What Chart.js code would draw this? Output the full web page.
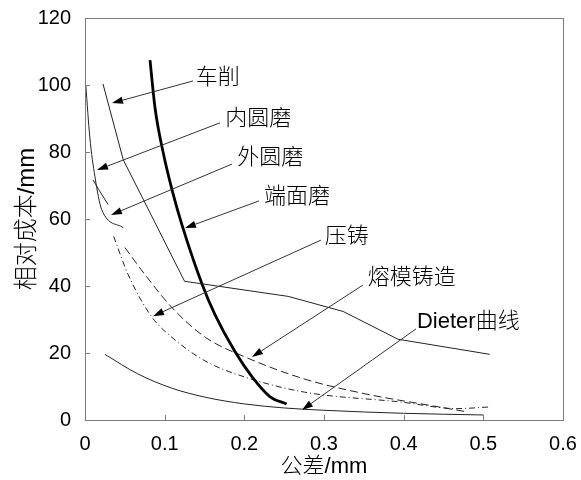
<!DOCTYPE html>
<html>
<head>
<meta charset="utf-8">
<script src="https://cdn.jsdelivr.net/npm/chart.js@4.4.1/dist/chart.umd.min.js"></script>
<style>
  body { margin: 0; background: #fff; }
</style>
</head>
<body>
<canvas id="chart" width="581" height="480"></canvas>
<script>
// tick labels
const xTicks = [0, 0.1, 0.2, 0.3, 0.4, 0.5, 0.6];
const yTicks = [0, 20, 40, 60, 80, 100, 120];

// 车削
const cheXueX = [0.0226, 0.048, 0.125, 0.255, 0.324, 0.393, 0.508];
const cheXueY = [100.3, 77.7, 41.4, 36.9, 32.4, 24.1, 19.6];
// 内圆磨
const neiYuanX = [0.001, 0.006, 0.0125, 0.021, 0.048];
const neiYuanY = [100, 84.5, 72.6, 62.8, 57.4];
// 外圆磨
const waiYuanX = [0.010, 0.018, 0.029];
const waiYuanY = [71.7, 68.5, 64.3];
// 端面磨 (thick)
const duanMianX = [0.0816, 0.088, 0.098, 0.110, 0.122, 0.147, 0.163, 0.188, 0.210, 0.232, 0.253];
const duanMianY = [107.4, 93, 80, 68, 58, 40.5, 31.5, 20.5, 12.8, 7, 4.8];
// 压铸 (dash-dot)
const yaZhuX = [0.036, 0.054, 0.084, 0.109, 0.151, 0.201, 0.276, 0.395, 0.467, 0.508];
const yaZhuY = [54.8, 43.5, 30.7, 24.7, 17.6, 12.8, 8.3, 5.4, 3.4, 3.9];
// 熔模铸造 (dashed)
const rongMoX = [0.050, 0.075, 0.109, 0.151, 0.201, 0.276, 0.354, 0.437, 0.480];
const rongMoY = [51.5, 43.5, 33.6, 24.7, 18.8, 12.2, 7.7, 4.2, 2.4];
// Dieter曲线
const dieterX = [0.025, 0.066, 0.109, 0.151, 0.2, 0.25, 0.3, 0.4, 0.5];
const dieterY = [19.6, 13.8, 9.5, 6.8, 4.8, 3.6, 2.9, 2.0, 1.5];

// annotation labels: text, text anchor, line start, arrow tip (data units)
const notes = [
  { text: '车削',       at: [0.139, 102.1], from: [0.1356, 101.2], tip: [0.0339, 94.6] },
  { text: '内圆磨',     at: [0.176, 89.9],  from: [0.1694, 88.7],  tip: [0.0151, 74.6] },
  { text: '外圆磨',     at: [0.191, 78.2],  from: [0.1845, 76.4],  tip: [0.0326, 61.2] },
  { text: '端面磨',     at: [0.2247, 66.6], from: [0.2184, 65.4],  tip: [0.1255, 57.3] },
  { text: '压铸',       at: [0.301, 54.6],  from: [0.2962, 53.7],  tip: [0.0854, 31.0] },
  { text: '熔模铸造',   at: [0.355, 42.4],  from: [0.349, 40.3],   tip: [0.2096, 18.8] },
  { text: 'Dieter曲线', at: [0.4167, 29.3], from: [0.4155, 27.2],  tip: [0.2724, 3.0] }
];

function pts(xs, ys) {
  return xs.map((x, i) => ({ x: x, y: ys[i] }));
}

const FONT = '"Liberation Sans", Arial, "Noto Sans CJK SC", sans-serif';

const overlay = {
  id: 'overlay',
  afterDraw(chart) {
    const ctx = chart.ctx;
    const a = chart.chartArea;
    const x = chart.scales.x, y = chart.scales.y;
    ctx.save();
    // box + inward ticks
    ctx.strokeStyle = '#7a7a7a';
    ctx.lineWidth = 1;
    ctx.strokeRect(a.left + 0.5, a.top + 0.5, a.right - a.left, a.bottom - a.top);
    ctx.beginPath();
    xTicks.forEach(v => {
      const px = Math.round(x.getPixelForValue(v)) + 0.5;
      ctx.moveTo(px, a.bottom); ctx.lineTo(px, a.bottom - 5);
    });
    yTicks.forEach(v => {
      const py = Math.round(y.getPixelForValue(v)) + 0.5;
      ctx.moveTo(a.left, py); ctx.lineTo(a.left + 5, py);
    });
    ctx.stroke();

    // annotations
    ctx.strokeStyle = '#333';
    ctx.fillStyle = '#000';
    ctx.font = '300 22px ' + FONT;
    ctx.textBaseline = 'middle';
    ctx.textAlign = 'left';
    notes.forEach(n => {
      const x0 = x.getPixelForValue(n.from[0]), y0 = y.getPixelForValue(n.from[1]);
      const x1 = x.getPixelForValue(n.tip[0]), y1 = y.getPixelForValue(n.tip[1]);
      const ang = Math.atan2(y1 - y0, x1 - x0);
      const len = 11, w = 3.6;
      const bx = x1 - len * Math.cos(ang), by = y1 - len * Math.sin(ang);
      ctx.beginPath();
      ctx.moveTo(x0, y0); ctx.lineTo(bx, by);
      ctx.stroke();
      ctx.beginPath();
      ctx.moveTo(x1, y1);
      ctx.lineTo(bx + w * Math.sin(ang), by - w * Math.cos(ang));
      ctx.lineTo(bx - w * Math.sin(ang), by + w * Math.cos(ang));
      ctx.closePath();
      ctx.fill();
      ctx.fillText(n.text, x.getPixelForValue(n.at[0]), y.getPixelForValue(n.at[1]));
    });
    ctx.restore();
  }
};

const thin = { borderColor: '#222', borderWidth: 1, pointRadius: 0, fill: false };

const data = {
  datasets: [
    Object.assign({ label: '车削', data: pts(cheXueX, cheXueY), tension: 0 }, thin),
    Object.assign({ label: '内圆磨', data: pts(neiYuanX, neiYuanY), cubicInterpolationMode: 'monotone' }, thin),
    Object.assign({ label: '外圆磨', data: pts(waiYuanX, waiYuanY), cubicInterpolationMode: 'monotone' }, thin),
    { label: '端面磨', data: pts(duanMianX, duanMianY), borderColor: '#000', borderWidth: 2.8,
      pointRadius: 0, cubicInterpolationMode: 'monotone' },
    Object.assign({ label: '压铸', data: pts(yaZhuX, yaZhuY), borderDash: [6, 3, 1, 3],
      cubicInterpolationMode: 'monotone' }, thin),
    Object.assign({ label: '熔模铸造', data: pts(rongMoX, rongMoY), borderDash: [8, 4],
      cubicInterpolationMode: 'monotone' }, thin),
    Object.assign({ label: 'Dieter曲线', data: pts(dieterX, dieterY),
      cubicInterpolationMode: 'monotone' }, thin)
  ]
};

const config = {
  type: 'scatter',
  data: data,
  options: {
    responsive: false,
    animation: false,
    devicePixelRatio: 1,
    showLine: true,
    layout: { padding: { top: 18, right: 18, left: 0, bottom: 0 } },
    plugins: { legend: { display: false }, tooltip: { enabled: false } },
    scales: {
      x: {
        type: 'linear', min: 0, max: 0.6,
        grid: { display: false }, border: { display: false },
        afterBuildTicks: s => { s.ticks = xTicks.map(v => ({ value: v })); },
        afterFit: s => { s.height = 60; },
        ticks: { color: '#000', padding: 4, font: { size: 20, family: FONT },
          callback: v => v === 0 ? '0' : v.toFixed(1) },
        title: { display: true, text: '公差/mm', color: '#000', padding: { top: 0, bottom: 0 },
          font: { size: 22, weight: 300, family: FONT } }
      },
      y: {
        type: 'linear', min: 0, max: 120,
        grid: { display: false }, border: { display: false },
        afterBuildTicks: s => { s.ticks = yTicks.map(v => ({ value: v })); },
        afterFit: s => { s.width = 85; },
        ticks: { color: '#000', padding: 6, font: { size: 20, family: FONT } },
        title: { display: true, text: '相对成本/mm', color: '#000', padding: { top: 13, bottom: 0 },
          font: { size: 24, weight: 300, family: FONT } }
      }
    }
  },
  plugins: [overlay]
};

new Chart(document.getElementById('chart').getContext('2d'), config);
</script>
</body>
</html>
